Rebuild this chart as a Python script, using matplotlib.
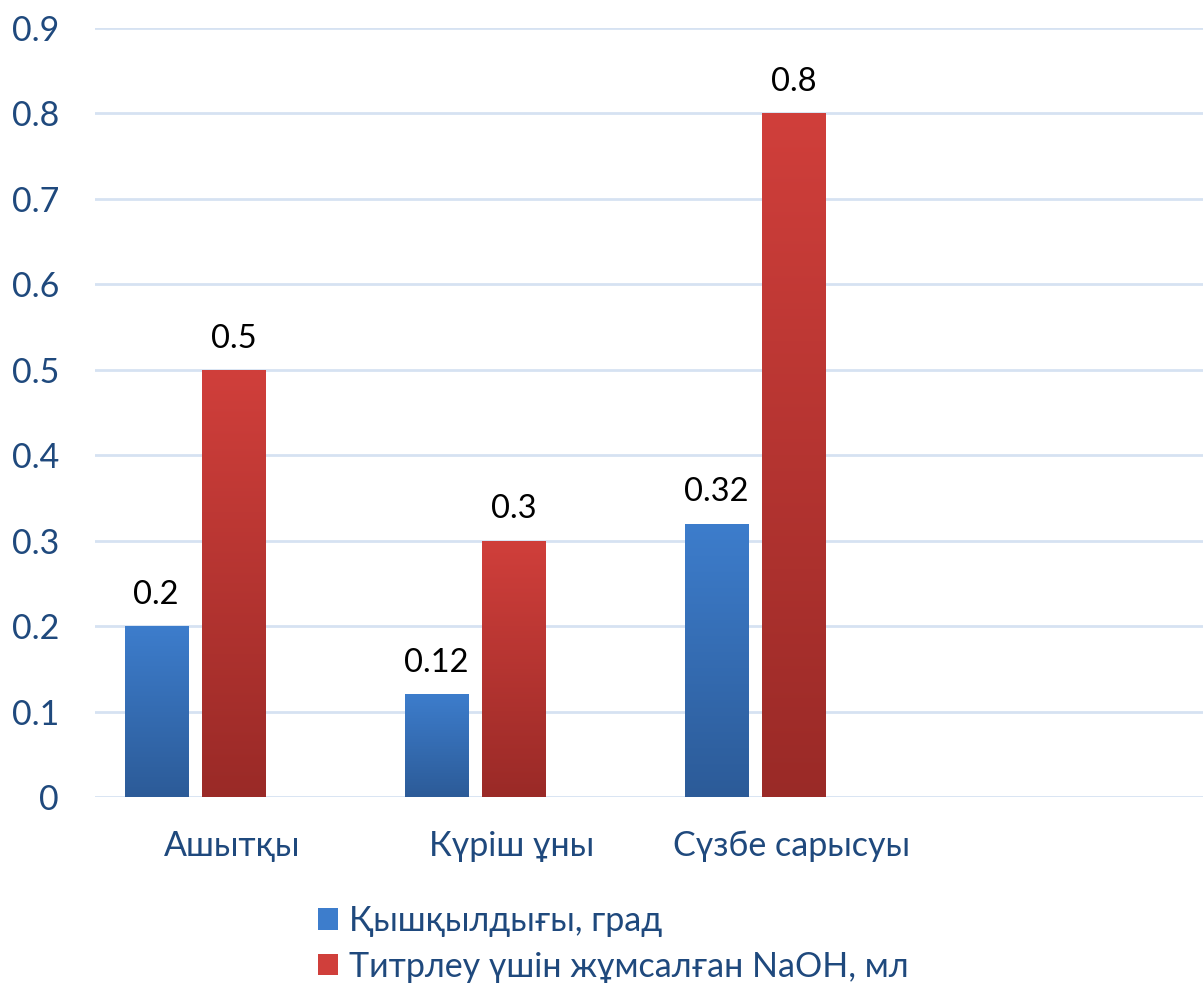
import numpy as np
import matplotlib
matplotlib.use("Agg")
from matplotlib import pyplot as plt
from matplotlib.patches import Patch
from matplotlib.colors import LinearSegmentedColormap
from matplotlib.transforms import ScaledTranslation

plt.rcParams['font.family'] = ['Lato', 'DejaVu Sans']

categories = ["Ашытқы", "Күріш ұны", "Сүзбе сарысуы"]
acidity = [0.2, 0.12, 0.32]
naoh = [0.5, 0.3, 0.8]
series_names = ["Қышқылдығы, град", "Титрлеу үшін жұмсалған NaOH, мл"]
yticks = [0, 0.1, 0.2, 0.3, 0.4, 0.5, 0.6, 0.7, 0.8, 0.9]

blue_top, blue_bot = "#3D7DCC", "#2C5B98"
red_top, red_bot = "#D03F3B", "#9A2A27"
text_blue = "#1F497D"
grid_col = "#D6E2F2"

W, H = 1203, 983
fig = plt.figure(figsize=(W / 100, H / 100), dpi=100)
ax = fig.add_axes([95 / W, 1 - 797 / H, (W - 95) / W, (797 - 28) / H])

x = np.arange(len(categories))
width = 0.225
b1 = ax.bar(x - 0.139, acidity, width, color="none", zorder=3)
b2 = ax.bar(x + 0.139, naoh, width, color="none", zorder=3)


def gradient_fill(bars, top, bot):
    cmap = LinearSegmentedColormap.from_list("g", [bot, top])
    grad = np.linspace(0, 1, 256).reshape(-1, 1)
    for b in bars:
        x0, y0 = b.get_x(), b.get_y()
        im = ax.imshow(grad, cmap=cmap, aspect="auto", origin="lower",
                       extent=[x0, x0 + b.get_width(), y0, y0 + b.get_height()],
                       zorder=3)
        im.set_clip_path(b)


gradient_fill(b1, blue_top, blue_bot)
gradient_fill(b2, red_top, red_bot)

for bars, vals in ((b1, acidity), (b2, naoh)):
    for b, v in zip(bars, vals):
        ax.text(b.get_x() + b.get_width() / 2, v + 0.019, f"{v:g}",
                ha="center", va="bottom", fontsize=23.5, color="black")

ax.set_xlim(-0.357, 3.6)
ax.set_ylim(0, 0.9)
ax.set_yticks(yticks)
ax.set_yticklabels([f"{t:g}" for t in yticks])
ax.set_xticks(x)
ax.set_xticklabels(categories)
ax.tick_params(axis="both", length=0, labelsize=24.5, labelcolor=text_blue)
ax.tick_params(axis="y", pad=26)
ax.tick_params(axis="x", pad=24)
# category labels sit a bit right of the bar pairs in the original
shift = ScaledTranslation(0.37, 0, fig.dpi_scale_trans)
for lbl in ax.get_xticklabels():
    lbl.set_transform(lbl.get_transform() + shift)
ax.grid(axis="y", color=grid_col, linewidth=2, zorder=0)
ax.set_axisbelow(True)
for s in ax.spines.values():
    s.set_visible(False)

handles = [Patch(facecolor=blue_top, edgecolor="none"),
           Patch(facecolor=red_top, edgecolor="none")]
fig.legend(handles, series_names, loc="upper left",
           bbox_to_anchor=(318 / W, 1 - 905 / H), frameon=False,
           fontsize=24.5, labelcolor=text_blue, handlelength=0.6,
           handleheight=0.6, handletextpad=0.3, labelspacing=0.4,
           borderpad=0, borderaxespad=0)

fig.savefig("out.png", dpi=100)
